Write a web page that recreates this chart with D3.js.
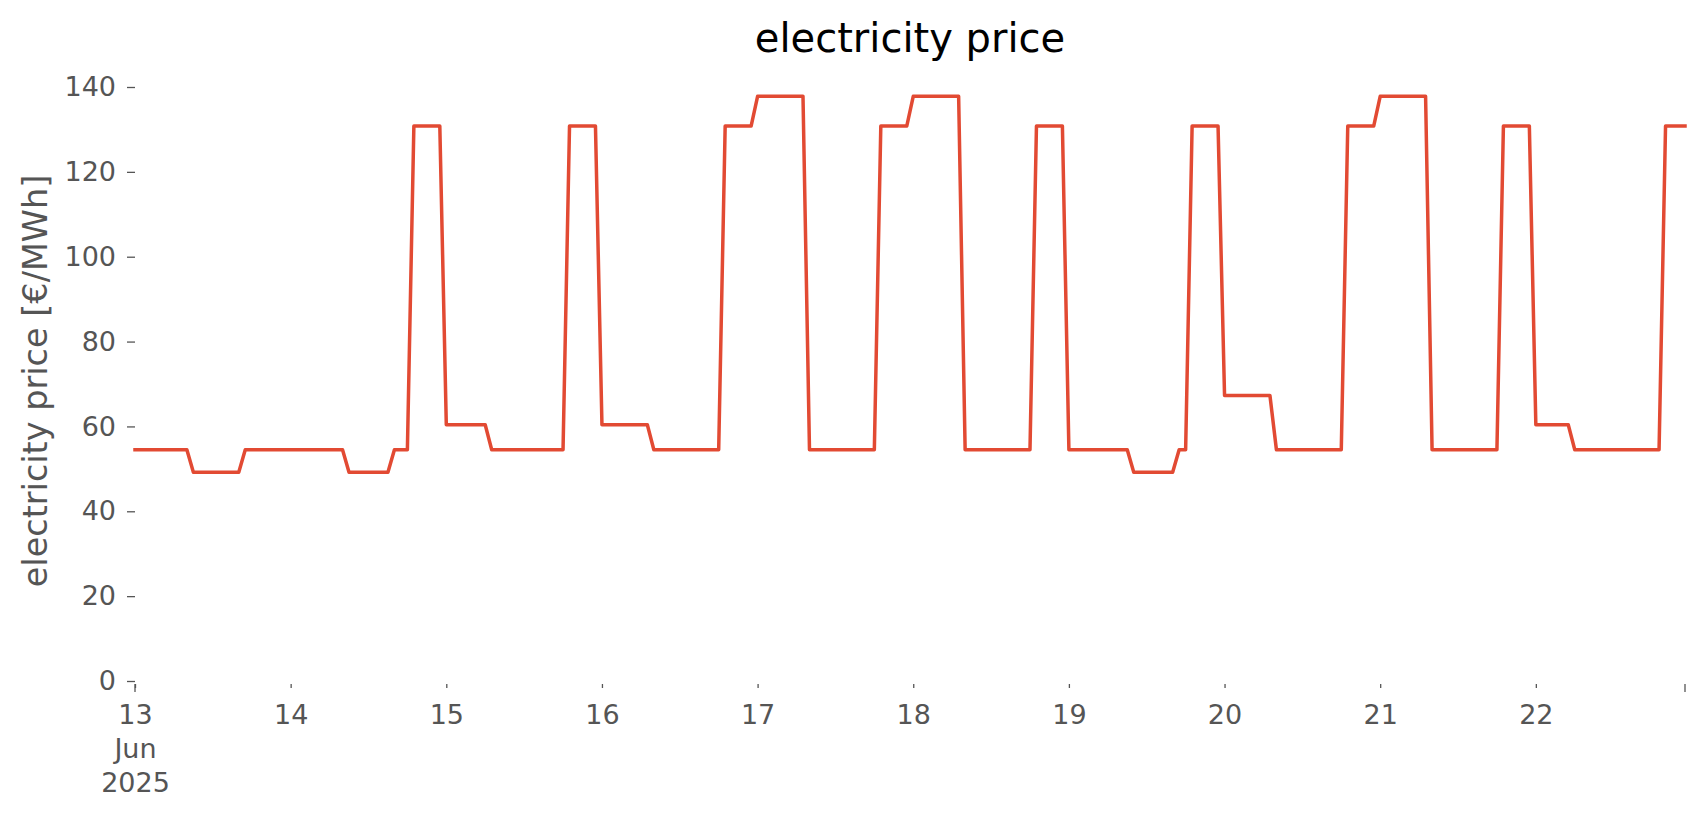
<!DOCTYPE html>
<html>
<head>
<meta charset="utf-8">
<script src="https://cdn.jsdelivr.net/npm/d3@7"></script>
<style>
  html, body { margin: 0; padding: 0; background: #ffffff; }
  svg { display: block; font-family: "DejaVu Sans", sans-serif; }
</style>
</head>
<body>
<svg id="chart" width="1706" height="815"></svg>
<script>
// ---------- data (hourly prices, €/MWh) ----------
const startTime = "2025-06-13T00:00:00";
const day13 = [54.5,54.5,54.5,54.5,54.5,54.5,54.5,54.5,54.5,49.2,49.2,49.2,49.2,49.2,49.2,49.2,49.2,54.5,54.5,54.5,54.5,54.5,54.5,54.5];
const day14 = [54.5,54.5,54.5,54.5,54.5,54.5,54.5,54.5,54.5,49.2,49.2,49.2,49.2,49.2,49.2,49.2,54.5,54.5,54.5,130.8,130.8,130.8,130.8,130.8];
const day15 = [60.4,60.4,60.4,60.4,60.4,60.4,60.4,54.5,54.5,54.5,54.5,54.5,54.5,54.5,54.5,54.5,54.5,54.5,54.5,130.8,130.8,130.8,130.8,130.8];
const day16 = [60.4,60.4,60.4,60.4,60.4,60.4,60.4,60.4,54.5,54.5,54.5,54.5,54.5,54.5,54.5,54.5,54.5,54.5,54.5,130.8,130.8,130.8,130.8,130.8];
const day17 = [137.8,137.8,137.8,137.8,137.8,137.8,137.8,137.8,54.5,54.5,54.5,54.5,54.5,54.5,54.5,54.5,54.5,54.5,54.5,130.8,130.8,130.8,130.8,130.8];
const day18 = [137.8,137.8,137.8,137.8,137.8,137.8,137.8,137.8,54.5,54.5,54.5,54.5,54.5,54.5,54.5,54.5,54.5,54.5,54.5,130.8,130.8,130.8,130.8,130.8];
const day19 = [54.5,54.5,54.5,54.5,54.5,54.5,54.5,54.5,54.5,54.5,49.2,49.2,49.2,49.2,49.2,49.2,49.2,54.5,54.5,130.8,130.8,130.8,130.8,130.8];
const day20 = [67.3,67.3,67.3,67.3,67.3,67.3,67.3,67.3,54.5,54.5,54.5,54.5,54.5,54.5,54.5,54.5,54.5,54.5,54.5,130.8,130.8,130.8,130.8,130.8];
const day21 = [137.8,137.8,137.8,137.8,137.8,137.8,137.8,137.8,54.5,54.5,54.5,54.5,54.5,54.5,54.5,54.5,54.5,54.5,54.5,130.8,130.8,130.8,130.8,130.8];
const day22 = [60.4,60.4,60.4,60.4,60.4,60.4,54.5,54.5,54.5,54.5,54.5,54.5,54.5,54.5,54.5,54.5,54.5,54.5,54.5,54.5,130.8,130.8,130.8,130.8];
const prices = [].concat(day13, day14, day15, day16, day17, day18, day19, day20, day21, day22);

const yTicks = [0, 20, 40, 60, 80, 100, 120, 140];
const xTickDays = ["2025-06-13","2025-06-14","2025-06-15","2025-06-16","2025-06-17","2025-06-18","2025-06-19","2025-06-20","2025-06-21","2025-06-22"];
const xTickLabels = [["13","Jun","2025"],["14"],["15"],["16"],["17"],["18"],["19"],["20"],["21"],["22"]];
const titleText = "electricity price";
const yLabelText = "electricity price [€/MWh]";

// ---------- build ----------
(function () {
const t0 = new Date(startTime);
const data = prices.map((v, i) => ({ t: new Date(t0.getTime() + i * 3600 * 1000), v }));

const pLeft = 135, pRight = 1685, pTop = 87, pBottom = 681;
const x = d3.scaleTime().domain([data[0].t, data[data.length - 1].t]).range([pLeft, pRight]);
const y = d3.scaleLinear().domain([0, 140]).range([pBottom, pTop]);

const svg = d3.select("#chart");
const tickColor = "#555555";
const tickFont = "27px";

// y axis
const gy = svg.append("g")
  .attr("transform", `translate(${pLeft},0)`)
  .call(d3.axisLeft(y).tickValues(yTicks).tickSize(8).tickSizeOuter(0).tickPadding(11).tickFormat(d3.format("d")));
gy.select(".domain").remove();
gy.selectAll(".tick line").attr("stroke", tickColor).attr("stroke-width", 1.3);
gy.selectAll(".tick text").attr("fill", tickColor).style("font-size", tickFont).style("font-family", "DejaVu Sans");

// x axis (day ticks: short; start/end ticks: long)
const dayDates = xTickDays.map(d => new Date(d + "T00:00:00"));
const gx = svg.append("g").attr("transform", `translate(0,${pBottom + 3})`);
gx.call(d3.axisBottom(x).tickValues(dayDates).tickSize(4).tickSizeOuter(0).tickFormat(() => ""));
gx.select(".domain").remove();
gx.selectAll(".tick line").attr("stroke", tickColor).attr("stroke-width", 1.3);
const majorTicks = [dayDates[0], data[data.length - 1].t];
gx.selectAll(".major").data(majorTicks).enter().append("line")
  .attr("class", "major")
  .attr("x1", d => x(d)).attr("x2", d => x(d))
  .attr("y1", 0).attr("y2", 8)
  .attr("stroke", tickColor).attr("stroke-width", 1.3);
gx.selectAll(".tick").each(function (d, i) {
  const txt = d3.select(this).select("text")
    .attr("y", 0).attr("dy", null)
    .attr("fill", tickColor).style("font-size", tickFont).style("font-family", "DejaVu Sans");
  txt.text(null);
  xTickLabels[i].forEach((s, k) => {
    txt.append("tspan").attr("x", 0).attr("y", 40 + k * 34).text(s);
  });
});

// line
const line = d3.line().x(d => x(d.t)).y(d => y(d.v));
svg.append("path")
  .datum(data)
  .attr("d", line)
  .attr("fill", "none")
  .attr("stroke", "#E24A33")
  .attr("stroke-width", 3.5)
  .attr("stroke-linejoin", "round")
  .attr("stroke-linecap", "square");

// title
svg.append("text")
  .attr("x", (pLeft + pRight) / 2).attr("y", 52)
  .attr("text-anchor", "middle")
  .style("font-size", "40px").style("font-family", "DejaVu Sans")
  .attr("fill", "#000000")
  .text(titleText);

// y label
svg.append("text")
  .attr("transform", `translate(47,${(pTop + pBottom) / 2 - 3}) rotate(-90)`)
  .attr("text-anchor", "middle")
  .style("font-size", "33.5px").style("font-family", "DejaVu Sans")
  .attr("fill", tickColor)
  .text(yLabelText);
})();
</script>
</body>
</html>
